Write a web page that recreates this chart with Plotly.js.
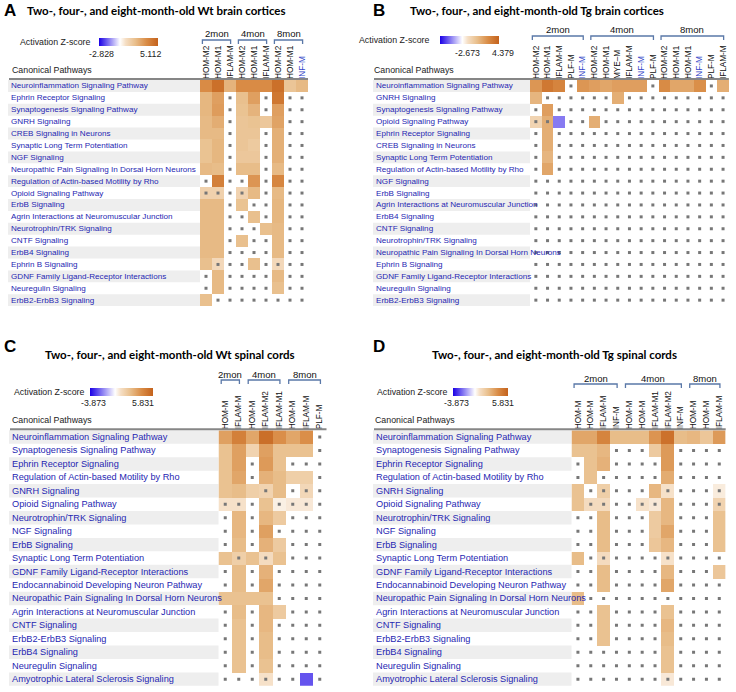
<!DOCTYPE html>
<html><head><meta charset="utf-8">
<script src="https://cdn.plot.ly/plotly-3.0.1.min.js"></script>
<style>html,body{margin:0;padding:0;background:#fff}#chart{width:736px;height:692px}</style>
</head><body><div id="chart"></div>
<script>
// ================= DATA =================
const groupNames = ["2mon", "4mon", "8mon"];

// ---- Panel A ----
const aTitle = "Two-, four-, and eight-month-old Wt brain cortices";
const aRange = [-2.828, 5.112];
const aCols = ["HOM-M2","HOM-M1","IFLAM-M","HOM-M2","HOM-M1","IFLAM-M","HOM-M2","HOM-M1","INF-M"];
const aGroupSpans = [[0,2],[3,5],[6,8]];
const aRows = ["Neuroinflammation Signaling Pathway","Ephrin Receptor Signaling","Synaptogenesis Signaling Pathway","GNRH Signaling","CREB Signaling in Neurons","Synaptic Long Term Potentiation","NGF Signaling","Neuropathic Pain Signaling In Dorsal Horn Neurons","Regulation of Actin-based Motility by Rho","Opioid Signaling Pathway","ErbB Signaling","Agrin Interactions at Neuromuscular Junction","Neurotrophin/TRK Signaling","CNTF Signaling","ErbB4 Signaling","Ephrin B Signaling","GDNF Family Ligand-Receptor Interactions","Neuregulin Signaling","ErbB2-ErbB3 Signaling"];
const aZ = [
[3.6,4.6,2.4,3.6,3.6,3.6,4.6,1.8,2.2],
[2.3,3.0,null,2.0,3.0,null,4.3,null,null],
[2.3,3.1,null,1.9,2.4,null,3.0,null,null],
[2.2,2.6,null,1.8,1.9,1.7,2.9,null,null],
[2.2,2.2,null,1.8,1.8,null,2.5,null,null],
[1.9,2.3,null,1.8,1.6,null,2.5,null,null],
[1.9,2.3,null,1.7,1.7,null,2.5,null,null],
[2.2,2.1,null,2.1,2.1,null,2.2,null,null],
[null,4.0,null,null,3.3,null,3.8,null,null],
[1.3,1.3,null,1.2,2.2,null,2.2,null,null],
[2.2,2.2,null,1.9,null,null,2.3,null,null],
[2.2,2.2,null,null,2.0,null,2.3,null,null],
[2.2,2.2,null,null,null,2.0,2.2,null,null],
[2.2,2.2,null,2.0,null,null,2.2,null,null],
[2.2,2.2,null,null,null,null,2.2,null,null],
[2.0,1.0,null,null,2.0,null,1.0,null,null],
[null,2.2,null,null,null,null,2.2,null,null],
[null,2.2,null,null,null,null,2.0,null,null],
[2.0,null,null,null,null,null,null,null,null]
];
const aDotted = [[9,0],[9,1],[9,3],[15,1],[15,6]];

// ---- Panel B ----
const bTitle = "Two-, four-, and eight-month-old Tg brain cortices";
const bRange = [-2.673, 4.379];
const bCols = ["HOM-M2","HOM-M1","IFLAM-M","PLF-M","INF-M","HOM-M2","HOM-M1","MYE\u2013M","IFLAM-M","INF-M","PLF-M","HOM-M2","HOM-M1","HOM-M1","INF-M","PLF-M","IFLAM-M"];
const bGroupSpans = [[0,4],[5,10],[11,16]];
const bRows = ["Neuroinflammation Signaling Pathway","GNRH Signaling","Synaptogenesis Signaling Pathway","Opioid Signaling Pathway","Ephrin Receptor Signaling","CREB Signaling in Neurons","Synaptic Long Term Potentiation","Regulation of Actin-based Motility by Rho","NGF Signaling","ErbB Signaling","Agrin Interactions at Neuromuscular Junction","ErbB4 Signaling","CNTF Signaling","Neurotrophin/TRK Signaling","Neuropathic Pain Signaling In Dorsal Horn Neurons","Ephrin B Signaling","GDNF Family Ligand-Receptor Interactions","Neuregulin Signaling","ErbB2-ErbB3 Signaling"];
// sparse cells: [row, col, z]
const bCells = [
[0,0,2.8],[0,1,3.7],[0,2,3.3],[0,4,2.8],[0,5,2.6],[0,6,2.4],[0,7,2.6],[0,8,2.6],[0,9,2.6],[0,11,3.1],[0,12,2.4],[0,13,2.4],[0,14,3.0],[0,16,2.2],
[1,0,2.0],[1,7,2.2],
[2,1,2.6],
[3,0,1.0],[3,1,2.2],[3,2,-1.4],[3,5,2.2],
[4,1,2.2],
[5,1,2.2],
[6,1,2.0],
[7,1,2.4]
];
const bDotted = [[3,0],[3,1]];

// ---- Panel C ----
const cTitle = "Two-, four-, and eight-month-old Wt spinal cords";
const cRange = [-3.873, 5.831];
const cCols = ["HOM-M","IFLAM-M","HOM-M","IFLAM-M2","IFLAM-M1","HOM-M","IFLAM-M","PLF-M"];
const cGroupSpans = [[0,1],[2,4],[5,7]];
const cRows = ["Neuroinflammation Signaling Pathway","Synaptogenesis Signaling Pathway","Ephrin Receptor Signaling","Regulation of Actin-based Motility by Rho","GNRH Signaling","Opioid Signaling Pathway","Neurotrophin/TRK Signaling","NGF Signaling","ErbB Signaling","Synaptic Long Term Potentiation","GDNF Family Ligand-Receptor Interactions","Endocannabinoid Developing Neuron Pathway","Neuropathic Pain Signaling In Dorsal Horn Neurons","Agrin Interactions at Neuromuscular Junction","CNTF Signaling","ErbB2-ErbB3 Signaling","ErbB4 Signaling","Neuregulin Signaling","Amyotrophic Lateral Sclerosis Signaling"];
const cZ = [
[3.4,4.6,3.2,5.3,4.0,3.2,4.0,null],
[2.2,3.4,1.4,3.4,2.2,2.2,2.2,null],
[2.2,3.4,null,3.6,2.2,null,null,null],
[2.2,3.2,null,2.8,2.4,1.6,1.6,null],
[2.2,2.4,1.6,1.4,2.4,null,1.2,null],
[0.8,0.8,null,2.2,0.4,0.6,0.6,null],
[null,2.6,null,2.6,1.8,null,null,null],
[null,2.6,null,3.4,null,null,null,null],
[null,2.4,null,2.8,1.8,null,null,null],
[2.2,1.6,2.2,1.0,2.2,null,null,null],
[null,2.4,null,2.8,null,null,null,null],
[null,2.4,null,3.2,null,null,null,null],
[2.2,2.2,2.2,2.2,null,null,null,null],
[null,2.4,null,2.6,1.8,null,null,null],
[null,2.2,null,2.6,null,null,null,null],
[null,2.2,null,2.4,null,null,null,null],
[null,2.2,null,2.4,null,null,null,null],
[null,2.2,null,2.2,null,null,null,null],
[null,null,null,0.8,null,null,-2.6,null]
];
const cDotted = [[4,3],[4,6],[5,0],[5,1],[5,4],[5,5],[5,6],[9,1],[9,3],[18,3]];

// ---- Panel D ----
const dTitle = "Two-, four-, and eight-month-old Tg spinal cords";
const dRange = [-3.873, 5.831];
const dCols = ["HOM-M","HOM-M","IFLAM-M","INF-M","HOM-M","HOM-M","IFLAM-M1","IFLAM-M2","INF-M","HOM-M","HOM-M","IFLAM-M"];
const dGroupSpans = [[0,3],[4,8],[9,11]];
const dRows = cRows;
const dZ = [
[3.2,3.2,4.4,2.4,2.4,2.4,3.8,5.2,2.4,2.6,2.0,3.6],
[2.2,2.2,2.6,null,null,null,1.8,3.6,null,null,null,null],
[null,2.2,2.8,null,null,null,null,3.6,null,null,null,null],
[null,2.2,null,null,null,null,null,3.0,null,null,null,null],
[2.2,null,1.6,null,null,null,2.6,0.8,null,null,null,0.5],
[2.2,1.0,1.0,null,null,0.8,0.6,2.6,null,null,null,1.4],
[null,null,2.4,null,null,null,1.8,2.6,null,null,null,2.2],
[null,null,2.4,null,null,null,1.8,3.2,null,null,null,2.2],
[null,null,2.4,null,null,null,2.0,2.6,null,null,null,2.2],
[2.4,null,1.0,null,null,null,null,0.8,null,null,null,null],
[null,null,2.4,null,null,null,null,2.6,null,null,null,2.0],
[null,null,2.4,null,null,null,null,3.2,null,null,null,null],
[2.4,null,null,null,null,null,null,null,null,null,null,null],
[null,null,2.2,null,null,null,null,2.2,null,null,null,null],
[null,null,2.2,null,null,null,null,2.6,null,null,null,null],
[null,null,2.2,null,null,null,null,2.4,null,null,null,null],
[null,null,null,null,null,null,null,2.2,null,null,null,null],
[null,null,null,null,null,null,null,2.2,null,null,null,null],
[null,null,null,null,null,null,null,0.6,null,null,null,null]
];
const dDotted = [[4,2],[4,7],[4,11],[5,1],[5,2],[5,5],[5,6],[5,11],[9,2],[9,7],[18,7]];

// ================= LAYOUT GEOMETRY (pixels) =================
const W = 736, H = 692;
function sparseToGrid(cells, nr, nc){
  const g = [];
  for (let r=0;r<nr;r++){ g.push(new Array(nc).fill(null)); }
  cells.forEach(([r,c,v])=>{ g[r][c]=v; });
  return g;
}
const panels = [
  {letter:'A', title:aTitle, range:aRange, cols:aCols, spans:aGroupSpans, rows:aRows, z:aZ, dotted:aDotted,
   letterX:2, letterY:10, titleX:156, titleY:10, gx:200, cw:12, gy:80, rh:11.9, lx:10, lf:8.1,
   brY:40, brLY:33, cbTR:93, cbY:42, cbX0:99, cbX1:158, cbLY:54, cbL0:101, cbL1:150, canX:10, canY:70, blueInf:true},
  {letter:'B', title:bTitle, range:bRange, cols:bCols, spans:bGroupSpans, rows:bRows, z:sparseToGrid(bCells,bRows.length,bCols.length), dotted:bDotted,
   letterX:371, letterY:10, titleX:537, titleY:10, gx:530, cw:11.7, gy:80, rh:11.9, lx:375, lf:8.1,
   brY:36, brLY:30, cbTR:432, cbY:40.5, cbX0:440, cbX1:499, cbLY:53, cbL0:467, cbL1:503, canX:372, canY:70, blueInf:true},
  {letter:'C', title:cTitle, range:cRange, cols:cCols, spans:cGroupSpans, rows:cRows, z:cZ, dotted:cDotted,
   letterX:2, letterY:347, titleX:170, titleY:355, gx:218.5, cw:13.5, gy:430.3, rh:13.45, lx:11, lf:9.2,
   brY:380, brLY:374, cbTR:87, cbY:392, cbX0:90, cbX1:153, cbLY:403, cbL0:93, cbL1:143, canX:10, canY:420, blueInf:false},
  {letter:'D', title:dTitle, range:dRange, cols:dCols, spans:dGroupSpans, rows:dRows, z:dZ, dotted:dDotted,
   letterX:371, letterY:347, titleX:554, titleY:354, gx:571.5, cw:12.85, gy:430.3, rh:13.45, lx:375, lf:9.2,
   brY:384, brLY:378, cbTR:450, cbY:392, cbX0:453, cbX1:508, cbLY:403, cbL0:456, cbL1:503, canX:373, canY:420, blueInf:false}
];

const px = v => v / W;
const py = v => 1 - v / H;
const FONT = 'Liberation Sans, Arial, sans-serif';
const LABEL_BLUE = '#2626b2';

function colorscale(lo, hi){
  const f = -lo/(hi-lo), g = 1-f;
  return [[0,'#1a00e6'],[f*0.5,'#8c80f2'],[f,'#ffffff'],[f+g*0.15,'#f5dec4'],[f+g*0.4,'#e9bf8c'],[f+g*0.7,'#d98c46'],[1,'#c4621c']];
}

const data = [], annotations = [], shapes = [];
const layout = {
  width: W, height: H, margin:{l:0,r:0,t:0,b:0}, paper_bgcolor:'#fff', plot_bgcolor:'rgba(0,0,0,0)',
  showlegend:false, font:{family:FONT, color:'#222'}, annotations, shapes
};

panels.forEach((p, k) => {
  const sfx = k === 0 ? '' : String(k+1);
  const xa = 'x'+sfx, ya = 'y'+sfx;
  const nr = p.rows.length, nc = p.cols.length;
  const gx1 = p.gx + nc*p.cw, gy1 = p.gy + nr*p.rh;
  const colIdx = p.cols.map((_,i)=>i), rowIdx = p.rows.map((_,i)=>i);

  layout['xaxis'+sfx] = {
    domain:[px(p.gx), px(gx1)], range:[-0.5, nc-0.5], anchor:ya, side:'top',
    tickmode:'array', tickvals:colIdx,
    ticktext:p.cols.map(c => (p.blueInf && c==='INF-M') ? '<span style="color:#3346c8">'+c+'</span>' : c),
    tickangle:-90, tickfont:{size:8.2, color:'#111', family:FONT}, ticks:'', showgrid:false, zeroline:false, showline:false, fixedrange:true
  };
  layout['yaxis'+sfx] = {
    domain:[py(gy1), py(p.gy)], range:[nr-0.5, -0.5], anchor:xa,
    showticklabels:false, ticks:'', showgrid:false, zeroline:false, showline:false, fixedrange:true
  };

  data.push({
    type:'heatmap', z:p.z, x:colIdx, y:rowIdx, xaxis:xa, yaxis:ya,
    zmin:p.range[0], zmax:p.range[1], colorscale:colorscale(p.range[0], p.range[1]),
    hoverinfo:'skip', showscale:true,
    colorbar:{orientation:'h', x:px(p.cbX0), xanchor:'left', y:py(p.cbY), yanchor:'middle',
      len:p.cbX1-p.cbX0, lenmode:'pixels', thickness:8, thicknessmode:'pixels',
      showticklabels:false, ticks:'', outlinewidth:0, xpad:0, ypad:0}
  });

  // dots for empty / non-significant cells
  const dx = [], dy = [];
  const dottedSet = new Set(p.dotted.map(([r,c]) => r+'_'+c));
  for (let r=0;r<nr;r++) for (let c=0;c<nc;c++){
    if (p.z[r][c] === null || dottedSet.has(r+'_'+c)) { dx.push(c); dy.push(r); }
  }
  data.push({type:'scatter', mode:'markers', x:dx, y:dy, xaxis:xa, yaxis:ya, hoverinfo:'skip',
    marker:{symbol:'square', size:3, color:'#777777', line:{width:0}}});

  // row bands + labels
  p.rows.forEach((name, i) => {
    if (i % 2 === 0) {
      shapes.push({type:'rect', xref:'paper', yref:'paper', x0:px(p.lx-2), x1:px(p.gx), y0:py(p.gy+(i+1)*p.rh), y1:py(p.gy+i*p.rh),
        fillcolor:'#eeeeee', line:{width:0}, layer:'below'});
    }
    annotations.push({xref:'paper', yref:ya, x:px(p.lx), y:i, xanchor:'left', yanchor:'middle', showarrow:false,
      text:name, font:{size:p.lf, color:LABEL_BLUE, family:FONT}, borderpad:0});
  });

  // header line
  shapes.push({type:'line', xref:'paper', yref:'paper', x0:px(p.lx-1), x1:px(gx1), y0:py(p.gy-1), y1:py(p.gy-1),
    line:{color:'#868686', width:2}});

  // group brackets
  p.spans.forEach(([a,b], gi) => {
    const x0 = a-0.3, x1 = b+0.05;
    shapes.push({type:'path', xref:xa, yref:'paper',
      path:`M ${x0},${py(p.brY+4)} L ${x0},${py(p.brY)} L ${x1},${py(p.brY)} L ${x1},${py(p.brY+4)}`,
      line:{color:'#5a78a8', width:1.3}});
    annotations.push({xref:xa, yref:'paper', x:(x0+x1)/2, y:py(p.brLY), xanchor:'center', yanchor:'middle', showarrow:false,
      text:groupNames[gi], font:{size:9.5, color:'#111', family:FONT}});
  });

  // colorbar texts
  annotations.push({xref:'paper', yref:'paper', x:px(p.cbTR), y:py(p.cbY), xanchor:'right', yanchor:'middle', showarrow:false,
    text:'Activation Z-score', font:{size:8.8, color:'#222', family:FONT}});
  annotations.push({xref:'paper', yref:'paper', x:px(p.cbL0), y:py(p.cbLY), xanchor:'center', yanchor:'middle', showarrow:false,
    text:String(p.range[0]), font:{size:8.8, color:'#222', family:FONT}});
  annotations.push({xref:'paper', yref:'paper', x:px(p.cbL1), y:py(p.cbLY), xanchor:'center', yanchor:'middle', showarrow:false,
    text:String(p.range[1]), font:{size:8.8, color:'#222', family:FONT}});
  annotations.push({xref:'paper', yref:'paper', x:px(p.canX), y:py(p.canY), xanchor:'left', yanchor:'middle', showarrow:false,
    text:'Canonical Pathways', font:{size:8.8, color:'#222', family:FONT}});

  // panel letter + title
  annotations.push({xref:'paper', yref:'paper', x:px(p.letterX), y:py(p.letterY), xanchor:'left', yanchor:'middle', showarrow:false,
    text:'<b>'+p.letter+'</b>', font:{size:17, color:'#000', family:'Liberation Sans, Arial'}});
  annotations.push({xref:'paper', yref:'paper', x:px(p.titleX), y:py(p.titleY), xanchor:'center', yanchor:'middle', showarrow:false,
    text:'<b>'+p.title+'</b>', font:{size:11.5, color:'#000', family:'Lato, Open Sans, sans-serif'}});
});

Plotly.newPlot('chart', data, layout, {staticPlot:true, displayModeBar:false});
</script>
</body></html>
